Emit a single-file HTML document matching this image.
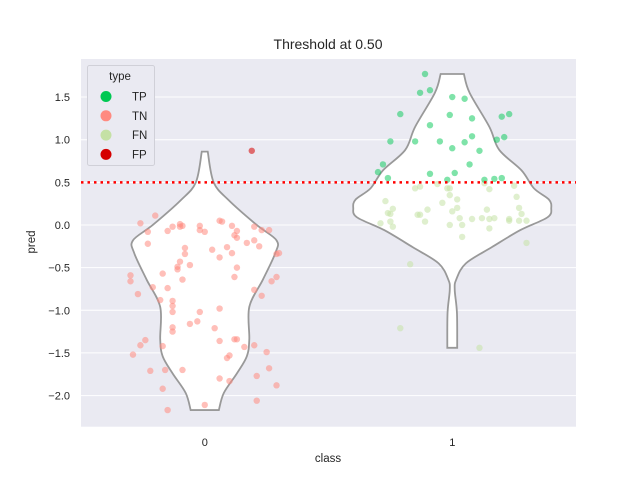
<!DOCTYPE html>
<html><head><meta charset="utf-8"><style>
html,body{margin:0;padding:0;background:#fff;}
svg{display:block;font-family:"Liberation Sans","DejaVu Sans",sans-serif;}
</style></head><body>
<svg id="chart" width="640" height="480" viewBox="0 0 640 480" xmlns="http://www.w3.org/2000/svg">
<rect x="81" y="59" width="495" height="367.7" fill="#eaeaf2"/>
<g id="grid"></g>
<g id="violins"></g>
<g id="points"></g>
<line id="thr" x1="81" x2="576" stroke="#ff0000" stroke-width="2.5" stroke-dasharray="2.5,4"/>
<g id="axes"></g>
<text x="328" y="49" font-size="14" text-anchor="middle" fill="#262626">Threshold at 0.50</text>
<text x="328" y="462" font-size="11.5" text-anchor="middle" fill="#262626">class</text>
<text transform="translate(35,242) rotate(-90)" font-size="11.5" text-anchor="middle" fill="#262626">pred</text>
<g>
<rect x="87.5" y="65.5" width="67" height="100" rx="2" fill="#eaeaf2" stroke="#d0d0d8"/>
<text x="120" y="80" font-size="11.5" text-anchor="middle" fill="#262626">type</text>
<g id="legend-entries"></g>
</g>
</svg>
<script>
const categories = ["0", "1"];
const yTicks = [-2.0, -1.5, -1.0, -0.5, 0.0, 0.5, 1.0, 1.5];
const threshold = 0.5;
const tpX = [-0.11,-0.13,-0.09,0.00,0.05,-0.21,-0.01,0.08,-0.09,0.20,0.23,-0.25,-0.15,-0.05,0.05,0.08,0.00,0.11,0.18,0.21,-0.28,-0.30,-0.26,-0.09,0.01,0.07,-0.02,0.13,0.17,0.20];
const tpY = [1.77,1.55,1.58,1.50,1.48,1.30,1.29,1.25,1.17,1.27,1.30,0.98,0.98,0.98,0.97,1.04,0.90,0.87,1.00,1.03,0.71,0.62,0.55,0.60,0.61,0.71,0.53,0.53,0.54,0.55];
const fnX = [-0.15,-0.13,-0.06,-0.02,-0.01,0.13,0.15,0.25,-0.27,-0.24,-0.26,-0.25,-0.14,-0.13,-0.10,-0.11,-0.29,-0.25,-0.24,-0.04,-0.01,0.02,0.00,0.02,0.03,-0.01,0.04,0.04,0.08,0.12,0.14,0.15,0.17,0.15,0.26,0.27,0.28,0.23,0.23,0.27,0.30,0.30,-0.17,-0.21,0.11];
const fnY = [0.43,0.45,0.48,0.43,0.43,0.49,0.42,0.46,0.28,0.19,0.14,0.13,0.12,0.12,0.18,0.04,0.02,0.04,-0.02,0.26,0.35,0.30,0.16,0.20,0.08,0.00,0.00,-0.14,0.07,0.08,0.18,0.07,0.08,-0.04,0.33,0.20,0.13,0.07,0.05,0.05,0.05,-0.21,-0.46,-1.21,-1.44];
const tnX = [-0.26,-0.20,-0.23,-0.23,-0.15,-0.13,-0.10,-0.09,-0.10,-0.02,-0.02,0.00,0.06,0.07,0.11,0.13,0.12,0.13,0.20,0.23,0.26,0.17,0.20,0.22,-0.08,-0.08,0.03,0.06,0.09,0.11,0.29,0.30,-0.10,-0.11,-0.11,-0.06,0.13,0.12,-0.30,-0.30,-0.17,-0.21,-0.15,-0.09,-0.27,-0.18,-0.13,-0.13,-0.13,-0.02,0.06,-0.03,-0.06,-0.13,-0.13,0.04,0.20,0.23,0.27,0.29,-0.24,-0.26,-0.29,-0.17,0.06,0.12,0.13,0.16,0.20,0.09,0.10,0.25,-0.22,-0.16,-0.09,0.06,0.10,0.21,0.26,0.29,-0.17,-0.15,0.00,0.21];
const tnY = [0.02,0.11,-0.08,-0.22,-0.07,-0.02,0.01,-0.01,-0.02,-0.01,-0.06,-0.08,0.05,0.04,-0.01,-0.07,-0.12,-0.15,-0.02,-0.06,-0.06,-0.21,-0.18,-0.25,-0.27,-0.34,-0.29,-0.38,-0.26,-0.33,-0.34,-0.33,-0.43,-0.49,-0.52,-0.47,-0.50,-0.61,-0.59,-0.66,-0.57,-0.73,-0.74,-0.64,-0.81,-0.88,-0.89,-0.95,-1.02,-1.02,-0.98,-1.13,-1.16,-1.20,-1.25,-1.21,-0.76,-0.83,-0.66,-0.61,-1.35,-1.41,-1.52,-1.42,-1.36,-1.34,-1.34,-1.43,-1.41,-1.56,-1.53,-1.49,-1.71,-1.70,-1.70,-1.80,-1.83,-1.77,-1.68,-1.88,-1.92,-2.17,-2.11,-2.06];
const fpX = [0.19];
const fpY = [0.87];
const violin0Y = [0.86,0.50,0.29,0.00,-0.18,-0.33,-0.64,-0.96,-1.34,-1.54,-1.74,-1.97,-2.17];
const violin0W = [0.012,0.036,0.097,0.21,0.29,0.285,0.235,0.18,0.18,0.17,0.13,0.077,0.057];
const violin1Y = [1.77,1.55,1.15,0.88,0.64,0.43,0.30,0.20,0.09,-0.06,-0.26,-0.45,-0.64,-0.76,-1.03,-1.44];
const violin1W = [0.047,0.07,0.15,0.19,0.28,0.33,0.39,0.40,0.385,0.275,0.16,0.055,0.016,0.01,0.019,0.02];
const legendLabels = ["TP","TN","FN","FP"];
const legendColors = ["#00c853","#ff8a80","#c5e1a5","#d50000"];

const NS = "http://www.w3.org/2000/svg";
const X0 = 81, X1 = 576, Y0 = 59, Y1 = 426.7;
const yMin = -2.365, yMax = 1.946;
function yScale(v){ return Y1 - (v - yMin) / (yMax - yMin) * (Y1 - Y0); }
const band = (X1 - X0) / categories.length;
function xScale(c){ return X0 + band * (c + 0.5); }
function xUnit(d){ return d * band; }
function mk(tag, attrs, parent){ const e = document.createElementNS(NS, tag); for (const k in attrs) e.setAttribute(k, attrs[k]); parent.appendChild(e); return e; }

const grid = document.getElementById('grid');
const axes = document.getElementById('axes');
yTicks.forEach((t) => {
  const y = yScale(t);
  const gl = mk('line', {x1: X0, x2: X1, y1: y, y2: y, stroke: '#fff', 'stroke-width': 1}, grid);
  
  
  const tx = mk('text', {x: 70, y: y + 4, 'font-size': 11, 'text-anchor': 'end', fill: '#262626'}, axes);
  tx.textContent = t.toFixed(1).replace('-', '\u2212');
  
  
});
categories.forEach((c, i) => {
  const tx = mk('text', {x: xScale(i), y: 446, 'font-size': 11, 'text-anchor': 'middle', fill: '#262626'}, axes);
  tx.textContent = c;
  
  
});

function smoothSide(pts){
  let d = '';
  for (let i = 0; i < pts.length - 1; i++){
    const p0 = pts[Math.max(0, i - 1)], p1 = pts[i], p2 = pts[i + 1], p3 = pts[Math.min(pts.length - 1, i + 2)];
    const c1 = [p1[0] + (p2[0] - p0[0]) / 6, p1[1] + (p2[1] - p0[1]) / 6];
    const c2 = [p2[0] - (p3[0] - p1[0]) / 6, p2[1] - (p3[1] - p1[1]) / 6];
    d += ` C${c1[0]},${c1[1]} ${c2[0]},${c2[1]} ${p2[0]},${p2[1]}`;
  }
  return d;
}
function drawViolin(ci, ys, ws, name){
  const cx = xScale(ci);
  const right = ys.map((v, i) => [cx + xUnit(ws[i]), yScale(v)]);
  const left = ys.map((v, i) => [cx - xUnit(ws[i]), yScale(v)]).reverse();
  let d = `M${right[0][0]},${right[0][1]}` + smoothSide(right) + ` L${left[0][0]},${left[0][1]}` + smoothSide(left) + ' Z';
  const p = mk('path', {d: d, fill: '#fff', stroke: '#999', 'stroke-width': 1.8}, document.getElementById('violins'));
  
  
}
drawViolin(0, violin0Y, violin0W, 'violin-class-0');
drawViolin(1, violin1Y, violin1W, 'violin-class-1');

const ptsG = document.getElementById('points');
function drawPts(ci, xs, ys, color, op, name){
  xs.forEach((j, i) => {
    const c = mk('circle', {cx: xScale(ci) + xUnit(j), cy: yScale(ys[i]), r: 3.2, fill: color, 'fill-opacity': op}, ptsG);
    
    
  });
}
drawPts(0, tnX, tnY, '#ff8a80', 0.55, 'point-tn');
drawPts(0, fpX, fpY, '#d50000', 0.55, 'point-fp');
drawPts(1, fnX, fnY, '#c5e1a5', 0.55, 'point-fn');
drawPts(1, tpX, tpY, '#00c853', 0.5, 'point-tp');

const thr = document.getElementById('thr');
thr.setAttribute('y1', yScale(threshold));
thr.setAttribute('y2', yScale(threshold));

const lg = document.getElementById('legend-entries');
legendLabels.forEach((l, i) => {
  const y = 96.5 + i * 19.3;
  const c = mk('circle', {cx: 106, cy: y, r: 5.5, fill: legendColors[i]}, lg);
  
  
  const t = mk('text', {x: 132, y: y + 4, 'font-size': 11.5, fill: '#262626'}, lg);
  t.textContent = l;
  
  
});
</script>
</body></html>
